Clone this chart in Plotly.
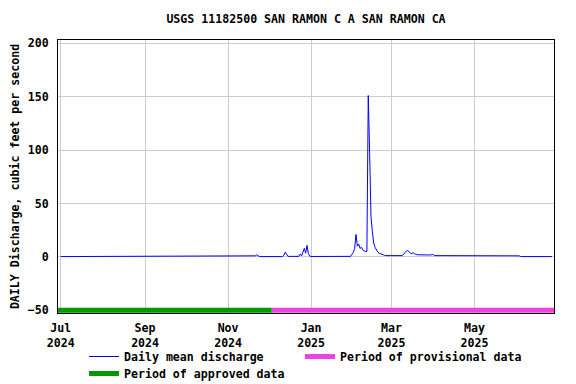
import plotly.graph_objects as go

title = "USGS 11182500 SAN RAMON C A SAN RAMON CA"
y_title = "DAILY Discharge, cubic feet per second"

dates = [
    "2024-07-01", "2024-11-20", "2024-11-21", "2024-11-22", "2024-11-23", "2024-11-24",
    "2024-12-11", "2024-12-12", "2024-12-13", "2024-12-14", "2024-12-15",
    "2024-12-23", "2024-12-24", "2024-12-25", "2024-12-26", "2024-12-27", "2024-12-28",
    "2024-12-29", "2024-12-30", "2024-12-31", "2025-01-01",
    "2025-01-30", "2025-01-31", "2025-02-01", "2025-02-02", "2025-02-03", "2025-02-04",
    "2025-02-05", "2025-02-06", "2025-02-07", "2025-02-08", "2025-02-09", "2025-02-10",
    "2025-02-11", "2025-02-12", "2025-02-13", "2025-02-14", "2025-02-15", "2025-02-16",
    "2025-02-17", "2025-02-18", "2025-02-19", "2025-02-20", "2025-02-21", "2025-02-22",
    "2025-02-23", "2025-02-24", "2025-02-25",
    "2025-03-09", "2025-03-10", "2025-03-11", "2025-03-12", "2025-03-13", "2025-03-14",
    "2025-03-15", "2025-03-16", "2025-03-17", "2025-03-18", "2025-03-19", "2025-03-20",
    "2025-03-30", "2025-03-31", "2025-04-01", "2025-04-02",
    "2025-06-03", "2025-06-04", "2025-06-27",
]
values = [
    0.3, 0.3, 1.0, 2.0, 0.8, 0.3,
    0.3, 1.5, 4.5, 1.8, 0.5,
    0.5, 2.6, 1.0, 5.0, 8.0, 3.5,
    10.8, 3.0, 0.8, 0.4,
    0.5, 2.5, 4.0, 8.0, 21.0, 10.0,
    12.0, 8.0, 9.0, 6.5, 5.5, 5.0,
    5.0, 151.0, 98.0, 38.0, 24.0, 13.0,
    9.0, 6.0, 4.5, 3.5, 2.8, 2.3,
    2.0, 1.5, 1.2,
    1.2, 2.5, 4.5, 5.5, 6.0, 4.5,
    3.5, 3.0, 4.0, 3.0, 2.5, 2.0,
    1.8, 2.3, 2.0, 1.2,
    1.0, 0.3, 0.3,
]

approved_dates = ["2024-06-29", "2024-12-03"]
provisional_dates = ["2024-12-03", "2025-06-28 12:00"]
period_level = [-50, -50]

tick_vals = ["2024-07-01", "2024-09-01", "2024-11-01", "2025-01-01", "2025-03-01", "2025-05-01"]
tick_text = ["Jul<br>2024", "Sep<br>2024", "Nov<br>2024", "Jan<br>2025", "Mar<br>2025", "May<br>2025"]
y_ticks = [-50, 0, 50, 100, 150, 200]

font_family = "DejaVu Sans Mono"
fs = 11.6

fig = go.Figure()
fig.add_trace(go.Scatter(
    x=dates, y=values, mode="lines", name="Daily mean discharge",
    line=dict(color="#0000FF", width=1), showlegend=True, legend="legend",
))
fig.add_trace(go.Scatter(
    x=provisional_dates, y=period_level, mode="lines", name="Period of provisional data",
    line=dict(color="#EE44DD", width=5), cliponaxis=False, legend="legend2",
))
fig.add_trace(go.Scatter(
    x=approved_dates, y=period_level, mode="lines", name="Period of approved data",
    line=dict(color="#009900", width=5), cliponaxis=False, legend="legend3",
))

def legend_box(x_px, y_px):
    return dict(
        orientation="h", xref="container", yref="container",
        x=x_px / 568, y=1 - y_px / 376, xanchor="left", yanchor="top",
        font=dict(size=fs, weight="bold"), itemwidth=30,
        bgcolor="rgba(0,0,0,0)",
    )

# The page body has an 8px default margin, so the figure is 8px smaller
fig.update_layout(
    width=568, height=376,
    margin=dict(l=50, r=22, t=32, b=71, autoexpand=False),
    paper_bgcolor="white", plot_bgcolor="white",
    font=dict(family=font_family, size=fs, color="black", weight="bold"),
    title=dict(text=title, x=0.5, xref="paper", y=1 - 11 / 376, yref="container",
               yanchor="middle", font=dict(size=fs, weight="bold")),
    showlegend=True,
    legend=legend_box(76, 334),
    legend2=legend_box(292, 334),
    legend3=legend_box(76, 351),
)
fig.update_xaxes(
    range=["2024-06-29", "2025-06-28 12:00"],
    tickmode="array", tickvals=tick_vals, ticktext=tick_text,
    showgrid=True, gridcolor="#CCCCCC", gridwidth=1,
    showline=True, linecolor="black", linewidth=1, mirror=True,
    ticks="outside", ticklen=4, tickcolor="rgba(0,0,0,0)",
    zeroline=False, automargin=False, tickfont=dict(size=fs, weight="bold"),
)
fig.update_yaxes(
    range=[-52.5, 203],
    tickmode="array", tickvals=y_ticks,
    showgrid=True, gridcolor="#CCCCCC", gridwidth=1,
    showline=True, linecolor="black", linewidth=1, mirror=True,
    ticks="outside", ticklen=6, tickcolor="rgba(0,0,0,0)",
    zeroline=False, automargin=False,
    title=dict(text=y_title, standoff=11, font=dict(size=fs, weight="bold")),
    tickfont=dict(size=fs, weight="bold"),
)

fig.write_html("out.html")
